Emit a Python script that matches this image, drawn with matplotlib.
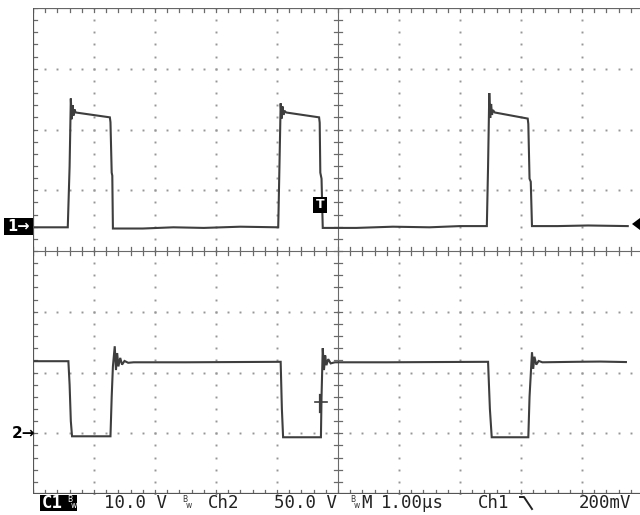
import numpy as np
import matplotlib
matplotlib.use("Agg")
import matplotlib.pyplot as plt
from matplotlib.patches import Rectangle, Polygon
from matplotlib.lines import Line2D

W, H = 640, 515

# Channel 1: time in microseconds, voltage in volts (10 V/div)
ch1_t = [0.03, 0.57, 0.60, 0.62, 0.635, 0.65, 0.665, 0.68, 0.70, 1.26, 1.27, 1.29, 1.30, 1.31,
         1.8, 2.3, 2.8, 3.4, 4.02, 4.04, 4.06, 4.075, 4.09, 4.105, 4.12, 4.15, 4.69, 4.70, 4.71,
         4.73, 4.75, 5.3, 5.9, 6.5, 7.0, 7.44, 7.46, 7.48, 7.495, 7.51, 7.525, 7.54, 7.57, 8.11,
         8.12, 8.14, 8.16, 8.18, 8.6, 9.1, 9.75]
ch1_v = [0.0, 0.0, 10.0, 21.2, 17.8, 20.1, 18.4, 19.4, 18.9, 18.1, 17.3, 9.0, 8.5, -0.2,
         -0.2, 0.0, -0.1, 0.1, 0.0, 10.0, 20.4, 17.9, 19.9, 18.5, 19.2, 18.9, 18.1, 17.2, 9.0,
         8.0, -0.1, -0.1, 0.1, 0.0, 0.2, 0.2, 10.0, 22.1, 18.0, 20.3, 18.5, 19.3, 18.9, 17.9,
         17.0, 8.0, 7.5, 0.2, 0.2, 0.3, 0.2]

# Channel 2: time in microseconds, voltage in volts (50 V/div)
ch2_t = [0.03, 0.58, 0.60, 0.62, 0.64, 1.27, 1.29, 1.31, 1.34, 1.36, 1.38, 1.40, 1.43, 1.46,
         1.50, 1.56, 1.65, 2.5, 3.3, 4.06, 4.08, 4.10, 4.72, 4.73, 4.75, 4.77, 4.79, 4.81,
         4.84, 4.88, 4.95, 5.8, 6.6, 7.46, 7.49, 7.52, 8.12, 8.14, 8.18, 8.20, 8.22, 8.25,
         8.29, 8.35, 8.9, 9.3, 9.72]
ch2_v = [59.3, 59.3, 40.0, 10.0, -2.5, -2.5, 30.0, 55.0, 71.6, 52.0, 66.0, 55.0, 62.0, 56.5,
         59.5, 58.0, 58.4, 58.4, 58.6, 58.8, 20.0, -3.3, -3.3, 30.0, 70.0, 52.0, 64.0, 56.0,
         61.0, 57.5, 58.4, 58.4, 58.6, 58.8, 20.0, -3.3, -3.3, 30.0, 66.7, 53.0, 63.0, 56.5,
         59.5, 58.4, 58.8, 59.0, 58.6]

CH1_VDIV = 10.0
CH2_VDIV = 50.0
TIME_DIV = 1.0
CH1_GROUND_DIV = 0.39
CH2_GROUND_DIV = -3.0

readout = [("10.0 V", 104), ("Ch2", 208), ("50.0 V", 274), ("M", 361), ("1.00\u00b5s", 381),
           ("Ch1", 478), ("200mV", 579)]

# ---------------- figure ----------------
fig = plt.figure(figsize=(W / 100, H / 100), dpi=100)
fig.patch.set_facecolor("white")

L, R, T, B = 33, 643, 8, 494
pos = [L / W, 1 - B / H, (R - L) / W, (B - T) / H]

gx = fig.add_axes(pos)
gx.set_xlim(0, 10)
gx.set_ylim(-4, 4)
gx.axis("off")

dotc = "#969696"
minor = np.round(np.arange(0, 10.001, 0.2), 3)
minor_y = np.round(np.arange(-4, 4.001, 0.2), 3)
for k in range(1, 10):
    if k == 5:
        continue
    gx.plot(np.full_like(minor_y, k), minor_y, ls="none", marker="s", ms=1.4,
            color=dotc, mec="none")
for j in range(-3, 4):
    if j == 0:
        continue
    gx.plot(minor, np.full_like(minor, j), ls="none", marker="s", ms=1.4,
            color=dotc, mec="none")

linec = "#6a6a6a"
# center lines
gx.plot([0, 10], [0, 0], color=linec, lw=0.8)
gx.plot([5, 5], [-4, 4], color=linec, lw=0.8)
tx = 4 / 61.0
ty = 4 / 60.75
for x in minor:
    gx.plot([x, x], [-ty, ty], color=linec, lw=0.9)
    gx.plot([x, x], [4, 4 - ty], color=linec, lw=0.9)
    gx.plot([x, x], [-4, -4 + ty], color=linec, lw=0.9)
for y in minor_y:
    gx.plot([5 - tx, 5 + tx], [y, y], color=linec, lw=0.9)
    gx.plot([0, tx], [y, y], color=linec, lw=0.9)
# frame
gx.plot([0, 10], [4, 4], color="#666666", lw=1.6)
gx.plot([0, 10], [-4, -4], color="#555555", lw=1.6)
gx.plot([0, 0], [-4, 4], color="#555555", lw=1.6)

tracec = "#3e3e3e"
a1 = fig.add_axes(pos)
a1.patch.set_alpha(0)
a1.set_xlim(0, 10 * TIME_DIV)
a1.set_ylim((-4 - CH1_GROUND_DIV) * CH1_VDIV, (4 - CH1_GROUND_DIV) * CH1_VDIV)
a1.axis("off")
a1.plot(ch1_t, ch1_v, color=tracec, lw=1.5, solid_joinstyle="miter")

a2 = fig.add_axes(pos)
a2.patch.set_alpha(0)
a2.set_xlim(0, 10 * TIME_DIV)
a2.set_ylim((-4 - CH2_GROUND_DIV) * CH2_VDIV, (4 - CH2_GROUND_DIV) * CH2_VDIV)
a2.axis("off")
a2.plot(ch2_t, ch2_v, color=tracec, lw=1.5, solid_joinstyle="miter")


def fx(px):
    return px / W


def fy(py):
    return 1 - py / H


mono = ["DejaVu Sans Mono"]

# channel 1 marker
fig.patches.append(Rectangle((fx(4), fy(235)), 29 / W, 17 / H, transform=fig.transFigure,
                             facecolor="black", edgecolor="none"))
fig.text(fx(7), fy(226.5), "1\u2192", color="white", fontsize=10.5, fontweight="bold",
         family="DejaVu Sans", va="center", ha="left")
# channel 2 marker
fig.text(fx(12), fy(434), "2\u2192", color="black", fontsize=11, fontweight="bold",
         family="DejaVu Sans", va="center", ha="left")
# trigger position marker
fig.patches.append(Rectangle((fx(313), fy(213)), 14 / W, 16 / H, transform=fig.transFigure,
                             facecolor="black", edgecolor="none"))
fig.text(fx(320), fy(205), "T", color="white", fontsize=9, fontweight="bold",
         family="DejaVu Sans", va="center", ha="center")
# trigger level arrow
fig.patches.append(Polygon([[fx(632), fy(224)], [fx(640), fy(218)], [fx(640), fy(230)]],
                           closed=True, transform=fig.transFigure, facecolor="black",
                           edgecolor="none"))
# cursor cross on ch2
fig.lines.append(Line2D([fx(315), fx(327)], [fy(402), fy(402)], transform=fig.transFigure,
                        color=tracec, lw=1.2))
fig.lines.append(Line2D([fx(320), fx(320)], [fy(395), fy(412)], transform=fig.transFigure,
                        color=tracec, lw=1.6))

# readout line
fig.patches.append(Rectangle((fx(40), fy(511)), 37 / W, 16 / H, transform=fig.transFigure,
                             facecolor="black", edgecolor="none"))
fig.text(fx(42), fy(503), "C1", color="white", fontsize=12.5, family=mono,
         fontweight="bold", va="center", ha="left")
for xb in (67, 182, 350):
    col = "white" if xb == 67 else "#333333"
    fig.text(fx(xb), fy(499), "B", color=col, fontsize=5.5, family="DejaVu Sans",
             va="center", ha="left")
    fig.text(fx(xb + 3.5), fy(506), "w", color=col, fontsize=5.5, family="DejaVu Sans",
             va="center", ha="left")
for s, x in readout:
    fig.text(fx(x), fy(503), s, color="#222222", fontsize=12.5, family=mono,
             va="center", ha="left")
fig.lines.append(Line2D([fx(520), fx(524), fx(532)], [fy(497), fy(497), fy(509)],
                        transform=fig.transFigure, color="#222222", lw=1.4))

fig.savefig("out.png", dpi=100, facecolor="white")
